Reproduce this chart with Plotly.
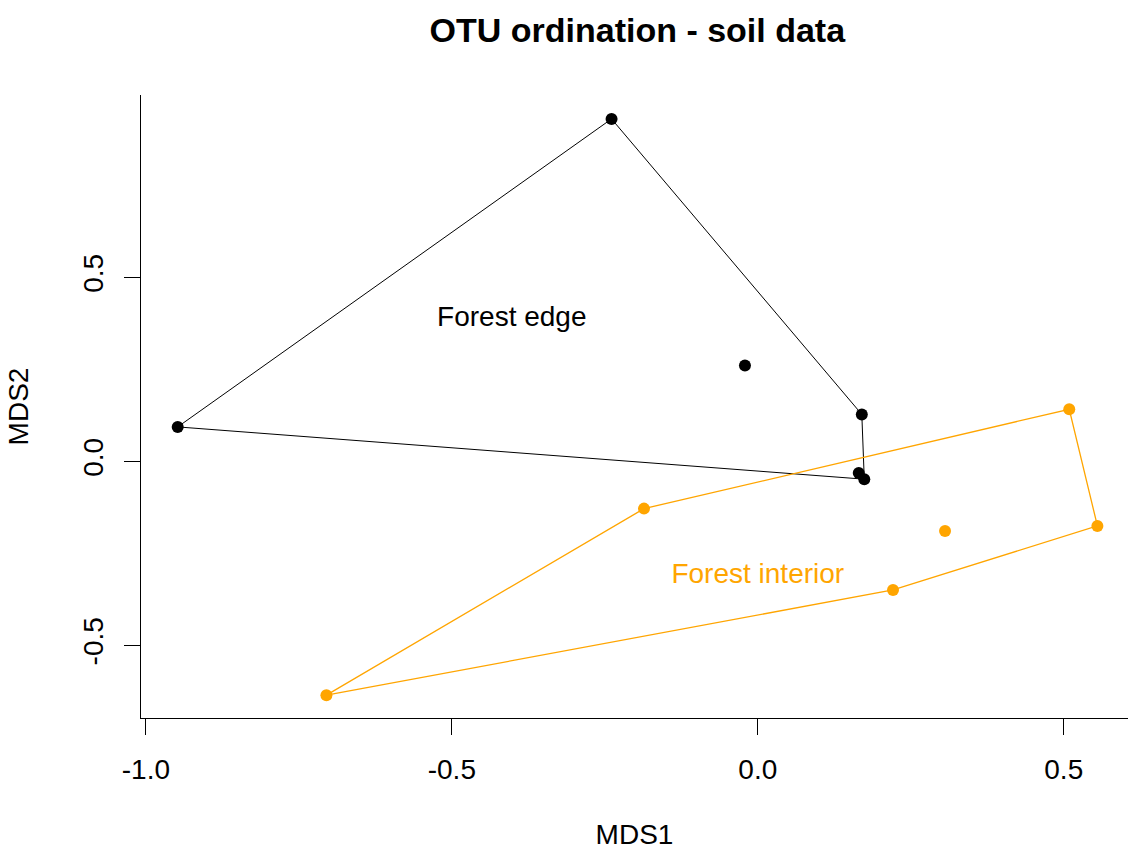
import plotly.graph_objects as go

# Site scores (MDS1, MDS2)
edge_x = [-0.239, -0.948, 0.170, 0.165, 0.174, -0.021]
edge_y = [0.931, 0.094, 0.128, -0.031, -0.048, 0.261]
interior_x = [0.509, 0.555, 0.221, -0.705, -0.186, 0.306]
interior_y = [0.142, -0.175, -0.349, -0.635, -0.128, -0.189]

# Convex hull vertex order (indices into the arrays above)
edge_hull = [0, 2, 4, 1, 0]
interior_hull = [3, 4, 0, 1, 2, 3]

# Group labels
label_text = ["Forest edge", "Forest interior"]
label_x = [-0.402, 0.0]
label_y = [0.388, -0.311]

x_ticks = [-1.0, -0.5, 0.0, 0.5]
x_tick_text = ["-1.0", "-0.5", "0.0", "0.5"]
y_ticks = [-0.5, 0.0, 0.5]
y_tick_text = ["-0.5", "0.0", "0.5"]

BLACK = "#000000"
ORANGE = "#FFA500"
FONT = "Liberation Sans, Arial, sans-serif"

fig = go.Figure()

fig.add_trace(go.Scatter(
    x=[edge_x[i] for i in edge_hull], y=[edge_y[i] for i in edge_hull],
    mode="lines", line=dict(color=BLACK, width=1), hoverinfo="skip", showlegend=False))
fig.add_trace(go.Scatter(
    x=[interior_x[i] for i in interior_hull], y=[interior_y[i] for i in interior_hull],
    mode="lines", line=dict(color=ORANGE, width=1.3), hoverinfo="skip", showlegend=False))

fig.add_trace(go.Scatter(
    x=edge_x, y=edge_y, mode="markers", name="Forest edge",
    marker=dict(color=BLACK, size=12), showlegend=False))
fig.add_trace(go.Scatter(
    x=interior_x, y=interior_y, mode="markers", name="Forest interior",
    marker=dict(color=ORANGE, size=12), showlegend=False))

fig.add_trace(go.Scatter(
    x=label_x, y=label_y, mode="text", text=label_text,
    textfont=dict(family=FONT, size=28, color=[BLACK, ORANGE]),
    textposition="middle center", hoverinfo="skip", showlegend=False))

fig.update_layout(
    width=1128, height=852,
    margin=dict(l=141, r=0, t=95, b=134),
    paper_bgcolor="white", plot_bgcolor="white",
    font=dict(family=FONT, size=28, color=BLACK),
    title=dict(text="OTU ordination - soil data", x=0.565, xanchor="center",
               y=1 - 30 / 852, yanchor="middle", yref="container",
               font=dict(family=FONT, size=34, color=BLACK, weight="bold")),
    xaxis=dict(range=[-1.008, 0.605], tickvals=x_ticks, ticktext=x_tick_text,
               showgrid=False, zeroline=False, showline=True, linecolor=BLACK,
               linewidth=1, ticks="outside", ticklen=16, tickwidth=1,
               tickcolor=BLACK, ticklabelstandoff=10,
               tickfont=dict(family=FONT, size=28, color=BLACK),
               title=dict(text="MDS1", standoff=40,
                          font=dict(family=FONT, size=28, color=BLACK))),
    yaxis=dict(range=[-0.697, 0.996], tickvals=y_ticks, ticktext=y_tick_text,
               tickangle=-90,
               showgrid=False, zeroline=False, showline=True, linecolor=BLACK,
               linewidth=1, ticks="outside", ticklen=16, tickwidth=1,
               tickcolor=BLACK, ticklabelstandoff=10,
               tickfont=dict(family=FONT, size=28, color=BLACK),
               title=dict(text="MDS2", standoff=40,
                          font=dict(family=FONT, size=28, color=BLACK))),
)

fig.write_html("out.html")
